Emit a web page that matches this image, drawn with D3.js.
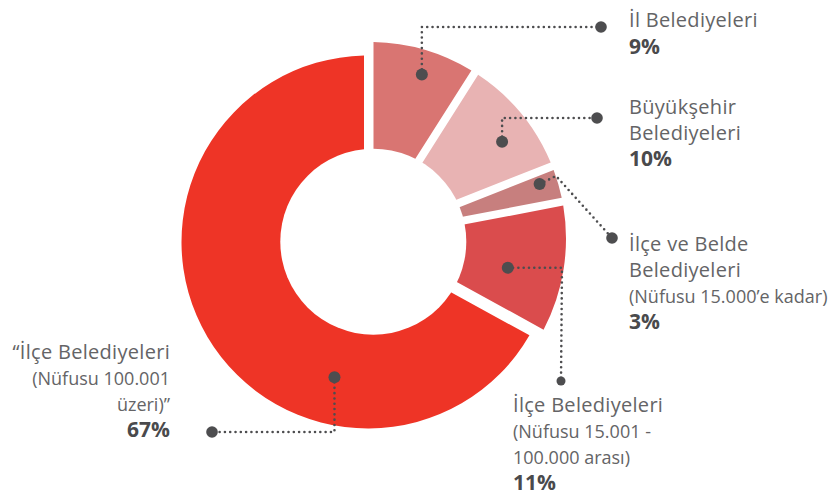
<!DOCTYPE html>
<html>
<head>
<meta charset="utf-8">
<script src="https://cdn.jsdelivr.net/npm/d3@7"></script>
<style>
  body { margin: 0; background: #fff; }
  text { font-family: "Open Sans", sans-serif; }
</style>
</head>
<body>
<svg id="donut"></svg>
<script>
// values
let categories = ['İl Belediyeleri', 'Büyükşehir Belediyeleri', 'İlçe ve Belde Belediyeleri',
  'İlçe Belediyeleri (15.001 - 100.000)', 'İlçe Belediyeleri (100.001 üzeri)'];
let values = [9, 10, 3, 11, 67];
let labelLines = [
  ['İl Belediyeleri'],
  ['Büyükşehir', 'Belediyeleri'],
  ['İlçe ve Belde', 'Belediyeleri', '(Nüfusu 15.000’e kadar)'],
  ['İlçe Belediyeleri', '(Nüfusu 15.001 -', '100.000 arası)'],
  ['“İlçe Belediyeleri', '(Nüfusu 100.001', 'üzeri)”']
];
let colors = ['#d97572', '#e8b3b3', '#c77f7e', '#da4c4d', '#ee3426'];

// layout of the callouts (not data)
let callouts = [
  { frac: 0.5,  r: 174, elbow: [null, 27],  end: [601, 27],  tx: 629, anchor: 'start', y0: 27,  lh: 26.5 },
  { frac: 0.55, r: 163, elbow: [null, 118], end: [597, 118], tx: 629, anchor: 'start', y0: 113.5, lh: 26 },
  { frac: 0.23, r: 176, elbow: [556, 176],  end: [612, 238], tx: 629, anchor: 'start', y0: 250.5, lh: 26 },
  { frac: 0.55, r: 137, elbow: [562, null], end: [561, 381], tx: 513, anchor: 'start', y0: 411.5, lh: 26.2 },
  { frac: 0.32, r: 141, elbow: [null, 432], end: [212, 432], tx: 170, anchor: 'end',   y0: 358.5, lh: 26.2 }
];

function makeChart() {
  let w = 837;
  let h = 499;
  let hole = { x: 373.3, y: 241.7, r: 93 };
  // the big slice sits a bit lower-left and smaller than the others
  let smallSlice = { x: 369.5, y: 238.5, R: 196.5 };
  let bigSlice = { x: 368, y: 242, R: 186.5 };

  let svg = d3.select('#donut')
    .attr('width', w)
    .attr('height', h);

  let pie = d3.pie().sort(null).value(d => d);
  let arcs = pie(values);

  let geo = d => (d.value > 50 ? bigSlice : smallSlice);

  let arc = d3.arc()
    .innerRadius(70)
    .outerRadius(d => geo(d).R)
    .padAngle(0.08)
    .padRadius(100);

  svg.append('g')
    .selectAll('path')
    .data(arcs)
    .enter()
    .append('path')
    .attr('transform', d => `translate(${geo(d).x},${geo(d).y})`)
    .attr('d', arc)
    .attr('fill', (d, i) => colors[i]);

  svg.append('circle')
    .attr('cx', hole.x)
    .attr('cy', hole.y)
    .attr('r', hole.r)
    .attr('fill', '#fff');

  // leader lines
  let ink = '#4d4d4f';
  let g = svg.append('g');
  arcs.forEach((d, i) => {
    let c = callouts[i];
    let a = d.startAngle + c.frac * (d.endAngle - d.startAngle);
    let ax = hole.x + c.r * Math.sin(a);
    let ay = hole.y - c.r * Math.cos(a);
    let ex = c.elbow[0] == null ? ax : c.elbow[0];
    let ey = c.elbow[1] == null ? ay : c.elbow[1];
    let line = d3.line();
    g.append('path')
      .attr('d', line([[ax, ay], [ex, ey], c.end]))
      .attr('fill', 'none')
      .attr('stroke', ink)
      .attr('stroke-width', 2.6)
      .attr('stroke-linecap', 'round')
      .attr('stroke-dasharray', '0 5.3');
    g.append('circle').attr('cx', ax).attr('cy', ay).attr('r', 6).attr('fill', ink);
    g.append('circle').attr('cx', c.end[0]).attr('cy', c.end[1]).attr('r', i == 3 ? 4.5 : 5.8).attr('fill', ink);

    let t = svg.append('text')
      .attr('text-anchor', c.anchor);
    labelLines[i].forEach((s, k) => {
      let sub = s.startsWith('(') || s.startsWith('100.') || s.startsWith('üzeri');
      t.append('tspan')
        .attr('x', c.tx)
        .attr('y', c.y0 + k * c.lh)
        .attr('fill', '#646466')
        .attr('font-size', sub ? 18 : 20)
        .attr('letter-spacing', sub ? 0 : 0.3)
        .text(s);
    });
    t.append('tspan')
      .attr('x', c.tx)
      .attr('y', c.y0 + labelLines[i].length * c.lh)
      .attr('fill', '#4a4a4c')
      .attr('font-weight', 700)
      .attr('font-size', 21)
      .text(d.value + '%');
  });
}

window.onload = function () {
  makeChart();
}
</script>
</body>
</html>
